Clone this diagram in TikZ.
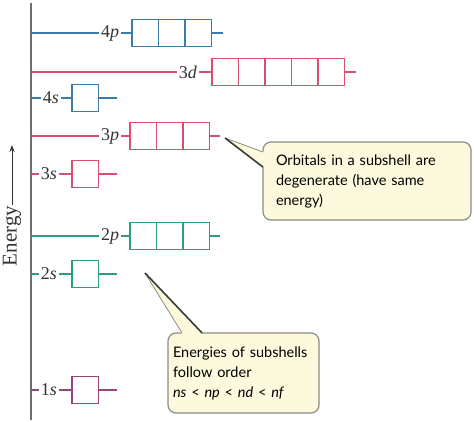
\documentclass[tikz,border=0pt]{standalone}
\usepackage{fontspec}
\setmainfont{Liberation Serif}
\newfontfamily\notefont{Lato}
\usetikzlibrary{arrows.meta,positioning,calc}
\definecolor{nfour}{HTML}{3D7BAA}
\definecolor{nthree}{HTML}{D6506F}
\definecolor{ntwo}{HTML}{2E9C83}
\definecolor{shellone}{HTML}{97457A}
\definecolor{axisgray}{HTML}{6E6E6E}
\definecolor{notefill}{HTML}{FCF9DC}
\definecolor{noteedge}{HTML}{8C8C84}
\definecolor{shadowline}{HTML}{3A3A3A}

\tikzset{
  orb/.style={draw=#1, minimum width=26.5pt, minimum height=27pt,
    inner sep=0pt, outer sep=0pt, line width=1.4pt},
  lvl/.style={font=\fontsize{18}{18}\selectfont, text=black!80, inner sep=2pt},
  rung/.style={line width=1.2pt},
  note/.style={draw=noteedge, fill=notefill, rounded corners=8pt, line width=1.2pt,
    align=left, font=\notefont\fontsize{14.5}{20}\selectfont},
}

\begin{document}
\begin{tikzpicture}[x=1pt,y=-1pt]
  \useasboundingbox (0,0) rectangle (474,422);

  % Energy axis
  \coordinate (axtop) at (31,3);
  \coordinate (axbot) at (31,420);
  \draw[axisgray,line width=1.6pt] (axtop) -- (axbot);
  \node[rotate=90,font=\fontsize{21}{21}\selectfont,text=black!80,inner sep=1pt] (energy) at (12,236) {Energy};
  \coordinate (uptip) at (12,145);
  \draw[black!80,line width=1pt,-{Stealth[length=7pt,width=5pt]}] (energy.east) -- (uptip);

  % 4p
  \node[lvl] (l4p) at (110,33) {4\textit{p}};
  \node[orb=nfour,anchor=west] (b4p1) at (132,33) {};
  \foreach \i [count=\j from 2] in {1,2} \node[orb=nfour,right=0pt of b4p\i] (b4p\j) {};
  \draw[rung,nfour] (axtop |- l4p) -- (l4p) -- (b4p1) (b4p3.east) -- ++(11,0);

  % 3d
  \node[lvl] (l3d) at (188,72) {3\textit{d}};
  \node[orb=nthree,anchor=west] (b3d1) at (212,72) {};
  \foreach \i [count=\j from 2] in {1,...,4} \node[orb=nthree,right=0pt of b3d\i] (b3d\j) {};
  \draw[rung,nthree] (axtop |- l3d) -- (l3d) -- (b3d1) (b3d5.east) -- ++(11,0);

  % 4s
  \node[lvl] (l4s) at (51,98) {4\textit{s}};
  \node[orb=nfour,anchor=west] (b4s) at (72,98) {};
  \draw[rung,nfour] (axtop |- l4s) -- (l4s) -- (b4s) (b4s.east) -- ++(18,0);

  % 3p
  \node[lvl] (l3p) at (110,136) {3\textit{p}};
  \node[orb=nthree,anchor=west] (b3p1) at (130,136) {};
  \foreach \i [count=\j from 2] in {1,2} \node[orb=nthree,right=0pt of b3p\i] (b3p\j) {};
  \draw[rung,nthree] (axtop |- l3p) -- (l3p) -- (b3p1) (b3p3.east) -- ++(10,0);

  % 3s
  \node[lvl] (l3s) at (49,174) {3\textit{s}};
  \node[orb=nthree,anchor=west] (b3s) at (72,174) {};
  \draw[rung,nthree] (axtop |- l3s) -- (l3s) -- (b3s) (b3s.east) -- ++(18,0);

  % 2p
  \node[lvl] (l2p) at (110,236) {2\textit{p}};
  \node[orb=ntwo,anchor=west] (b2p1) at (130,236) {};
  \foreach \i [count=\j from 2] in {1,2} \node[orb=ntwo,right=0pt of b2p\i] (b2p\j) {};
  \draw[rung,ntwo] (axtop |- l2p) -- (l2p) -- (b2p1) (b2p3.east) -- ++(10,0);

  % 2s
  \node[lvl] (l2s) at (49,274) {2\textit{s}};
  \node[orb=ntwo,anchor=west] (b2s) at (72,274) {};
  \draw[rung,ntwo] (axtop |- l2s) -- (l2s) -- (b2s) (b2s.east) -- ++(18,0);

  % 1s
  \node[lvl] (l1s) at (49,390) {1\textit{s}};
  \node[orb=shellone,anchor=west] (b1s) at (72,390) {};
  \draw[rung,shellone] (axtop |- l1s) -- (l1s) -- (b1s) (b1s.east) -- ++(18,0);

  % Callout: degenerate orbitals
  \node[note,minimum width=208pt,minimum height=78pt,text width=182pt] (degen) at (367,181)
    {Orbitals in a subshell are\\degenerate (have same\\energy)};
  \coordinate (tip1) at (225,138);
  \fill[notefill] (tip1) -- ($(degen.west)+(2,-29)$) -- ($(degen.west)+(2,-14)$) -- cycle;
  \draw[noteedge,line width=0.8pt] (tip1) -- ($(degen.west)+(0.5,-29)$);
  \draw[shadowline,line width=1.6pt] (tip1) -- ($(degen.west)+(0.5,-14)$);

  % Callout: order of subshells
  \node[note,minimum width=151pt,minimum height=80pt,text width=141pt] (order) at (243.5,373)
    {Energies of subshells\\follow order\\\textit{ns} < \textit{np} < \textit{nd} < \textit{nf}};
  \coordinate (tip2) at (145,273);
  \fill[notefill] (tip2) -- ($(order.north)+(-61.5,2)$) -- ($(order.north)+(-41.5,2)$) -- cycle;
  \draw[noteedge,line width=0.8pt] (tip2) -- ($(order.north)+(-61.5,0.5)$);
  \draw[shadowline,line width=1.6pt] (tip2) -- ($(order.north)+(-41.5,0.5)$);
\end{tikzpicture}
\end{document}
